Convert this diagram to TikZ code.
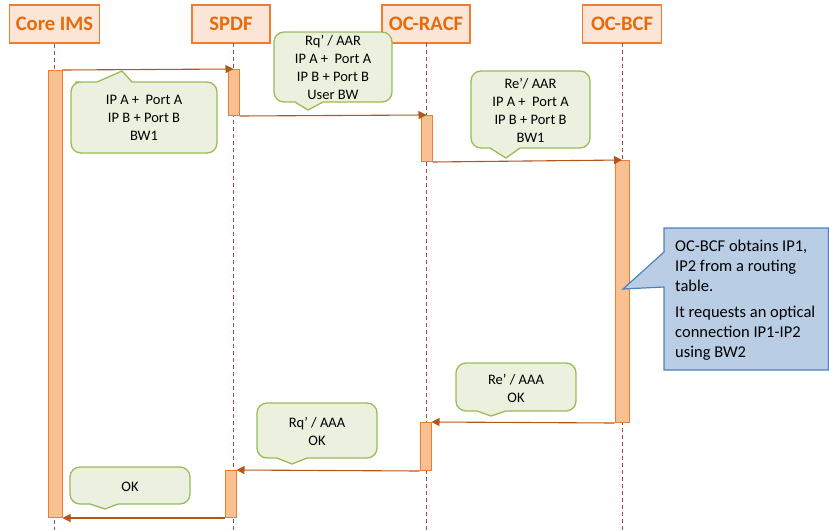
\documentclass[tikz,border=0pt]{standalone}
\usepackage{fontspec}
\setmainfont{Carlito}
\usetikzlibrary{arrows.meta}

\definecolor{hdrfill}{HTML}{FBE5D6}
\definecolor{hdrline}{HTML}{ED7D31}
\definecolor{hdrtext}{HTML}{E46C0A}
\definecolor{barfill}{HTML}{F9C091}
\definecolor{msgline}{HTML}{B4561A}
\definecolor{lifecol}{HTML}{A8484E}
\definecolor{notefill}{HTML}{EBF1DE}
\definecolor{noteline}{HTML}{9BBB59}
\definecolor{infofill}{HTML}{B9CDE5}
\definecolor{infoline}{HTML}{4F81BD}

\tikzset{
  actor/.style={draw=hdrline, fill=hdrfill, line width=1.2pt, minimum height=38pt,
    text=hdrtext, font=\fontsize{20.6}{24}\selectfont\bfseries},
  life/.style={draw=lifecol, dash pattern=on 4pt off 3pt, line width=0.9pt},
  bar/.style={draw=hdrline, fill=barfill, line width=1pt, anchor=north, inner sep=0pt},
  msg/.style={draw=msgline, line width=1.1pt, -{Triangle[length=8pt,width=8pt]}},
  note/.style={draw=noteline, fill=notefill, line width=1.3pt},
  notetext/.style={align=center, inner sep=0pt, font=\fontsize{14.5}{18}\selectfont},
  info/.style={draw=infoline, fill=infofill, line width=1.2pt},
  infotext/.style={align=left, inner sep=0pt, font=\fontsize{16.5}{19.7}\selectfont},
}

\begin{document}
\begin{tikzpicture}[x=1pt,y=-1pt]
\useasboundingbox (0,0) rectangle (829,530);

% Teilnehmer
\node[actor, minimum width=90pt] (ims) at (54.5,24) {Core IMS};
\node[actor, minimum width=78pt] (spdf) at (231,24) {SPDF};
\node[actor, minimum width=88pt] (racf) at (426,24) {OC-RACF};
\node[actor, minimum width=79pt] (bcf) at (622,24) {OC-BCF};

% Lebenslinien
\draw[life] (ims.south) -- (ims.south |- 0,530);
\draw[life] (233,43) -- (233,530);
\draw[life] (426,43) -- (426,530);
\draw[life] (622,43) -- (622,530);

% Aktivierungsbalken
\node[bar, minimum width=14pt, minimum height=447pt] (imsbar) at (55,70) {};
\node[bar, minimum width=11pt, minimum height=46pt] (spdfbar1) at (233.5,69) {};
\node[bar, minimum width=11pt, minimum height=46pt] (racfbar1) at (426.5,115) {};
\node[bar, minimum width=14pt, minimum height=262pt] (bcfbar) at (622,160) {};
\node[bar, minimum width=11pt, minimum height=48pt] (racfbar2) at (425.5,422) {};
\node[bar, minimum width=11pt, minimum height=47pt] (spdfbar2) at (230.5,470) {};

% Nachrichten
\draw[msg] (imsbar.north east) -- (spdfbar1.north);
\draw[msg] (spdfbar1.south east) -- (racfbar1.north);
\draw[msg] (racfbar1.south east) -- (bcfbar.north);
\draw[msg] (bcfbar.south west) -- (racfbar2.north east);
\draw[msg] (racfbar2.south west) -- (spdfbar2.north east);
\draw[msg] (spdfbar2.south west) -- (imsbar.south east);

% Sprechblasen
\draw[note] (122,71) -- (132,82) -- (150,82) [rounded corners=10pt] -- (217,82) -- (217,153)
  -- (71,153) -- (71,82) -- (85,82) [sharp corners] -- (97,82) -- cycle;
\node[notetext] (notea) at (144,118) {IP A + \ Port A\\IP B + Port B\\BW1};

\draw[note] (308,110) -- (295,102) -- (290,102) [rounded corners=10pt] -- (274,102) -- (274,32)
  -- (392,32) -- (392,102) -- (340,102) [sharp corners] -- (323,102) -- cycle;
\node[notetext] (noteb) at (333,67.5) {Rq’ / AAR\\IP A + \ Port A\\IP B + Port B\\User BW};

\draw[note] (506,158) -- (490,148) -- (485,148) [rounded corners=10pt] -- (471,148) -- (471,71)
  -- (590,71) -- (590,148) -- (535,148) [sharp corners] -- (520,148) -- cycle;
\node[notetext] (notec) at (530.5,110) {Re’/ AAR\\IP A + \ Port A\\IP B + Port B\\BW1};

\draw[note] (491,416) -- (477,411) -- (472,411) [rounded corners=10pt] -- (456,411) -- (456,363)
  -- (576,363) -- (576,411) -- (520,411) [sharp corners] -- (506,411) -- cycle;
\node[notetext] (noted) at (516,388) {Re’ / AAA\\OK};

\draw[note] (292,464) -- (277,458) -- (272,458) [rounded corners=10pt] -- (257,458) -- (257,403)
  -- (377,403) -- (377,458) -- (320,458) [sharp corners] -- (307,458) -- cycle;
\node[notetext] (notee) at (317,431) {Rq’ / AAA\\OK};

\draw[note] (105,509) -- (90,504) -- (85,504) [rounded corners=10pt] -- (70,504) -- (70,467)
  -- (190,467) -- (190,504) -- (130,504) [sharp corners] -- (118,504) -- cycle;
\node[notetext] (notef) at (130,486.5) {OK};

% Hinweis OC-BCF
\draw[info] (623,289) -- (664,287) -- (664,370) -- (828.4,370) -- (828.4,228) -- (664,228)
  -- (664,252) -- cycle;
\node[infotext, anchor=north west] (infotxt) at (675,240)
  {OC-BCF obtains IP1,\\IP2 from a routing\\table.\\[7pt]It requests an optical\\connection IP1-IP2\\using BW2};
\end{tikzpicture}
\end{document}
